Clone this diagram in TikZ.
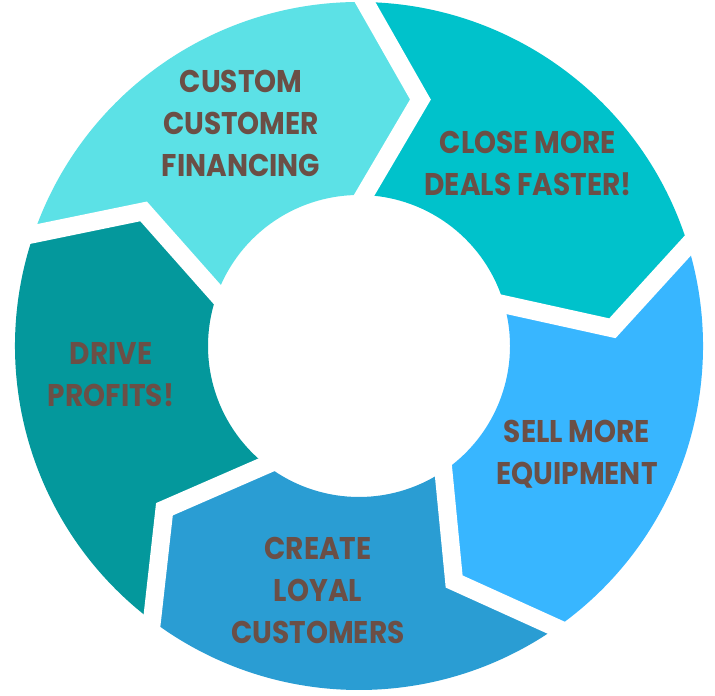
\documentclass[tikz,border=0pt]{standalone}
\usepackage{fontspec}
\setmainfont{Poppins}
\usetikzlibrary{calc}
\definecolor{cCustom}{HTML}{5CE1E6}
\definecolor{cClose}{HTML}{00C2CB}
\definecolor{cSell}{HTML}{38B6FF}
\definecolor{cCreate}{HTML}{2A9DD3}
\definecolor{cDrive}{HTML}{04989C}
\definecolor{txt}{HTML}{6B4F46}
\newcommand\ringseg[2]{%
  \pgfmathsetmacro\segb{#1-72}%
  \fill[#2] ([shift={(#1:\Ro)}]C) arc[start angle=#1, end angle=\segb, radius=\Ro]
    -- ([shift={(\segb-\Off:\Rt)}]C) -- ([shift={(\segb-1:\Ri)}]C)
    arc[start angle=\segb-1, end angle=#1-1, radius=\Ri]
    -- ([shift={(#1-\Off:\Rt)}]C) -- cycle;
}
\newcommand\ringgap[1]{%
  \coordinate (go) at ([shift={(#1:\Ro)}]C);
  \coordinate (gt) at ([shift={(#1-\Off:\Rt)}]C);
  \coordinate (gi) at ([shift={(#1-1:\Ri)}]C);
  \draw[gapline] ($(gt)!1.4!(go)$) -- (gt) -- ($(gt)!1.3!(gi)$);
}
\newcommand\lbltext[1]{\scalebox{1}[1.12]{\begin{tabular}{@{}c@{}}#1\end{tabular}}}
\begin{document}
\begin{tikzpicture}[x=1pt,y=1pt,
  gapline/.style={white, line width=18pt, line join=miter},
  lbl/.style={text=txt, align=center, font=\fontsize{28}{37.5}\selectfont\bfseries, inner sep=0pt}]
\fill[white] (0,0) rectangle (715,696);
\useasboundingbox (0,0) rectangle (715,696);
\def\Ro{344}\def\Ri{151}\def\Rt{254}\def\Off{13}
\coordinate (C) at (359,350);
\ringseg{161}{cCustom}
\ringseg{89}{cClose}
\ringseg{17}{cSell}
\ringseg{-55}{cCreate}
\ringseg{-127}{cDrive}
\foreach \a in {161,89,17,-55,-127} {\ringgap{\a}}
\node[lbl] (t1) at (241,570) {\lbltext{CUSTOM\\CUSTOMER\\FINANCING}};
\node[lbl] (t2) at (528,530) {\lbltext{CLOSE MORE\\DEALS FASTER!}};
\node[lbl] (t3) at (577,240.5) {\lbltext{SELL MORE\\EQUIPMENT}};
\node[lbl] (t4) at (318,103) {\lbltext{CREATE\\LOYAL\\CUSTOMERS}};
\node[lbl] (t5) at (111,319) {\lbltext{DRIVE\\PROFITS!}};
\end{tikzpicture}
\end{document}
